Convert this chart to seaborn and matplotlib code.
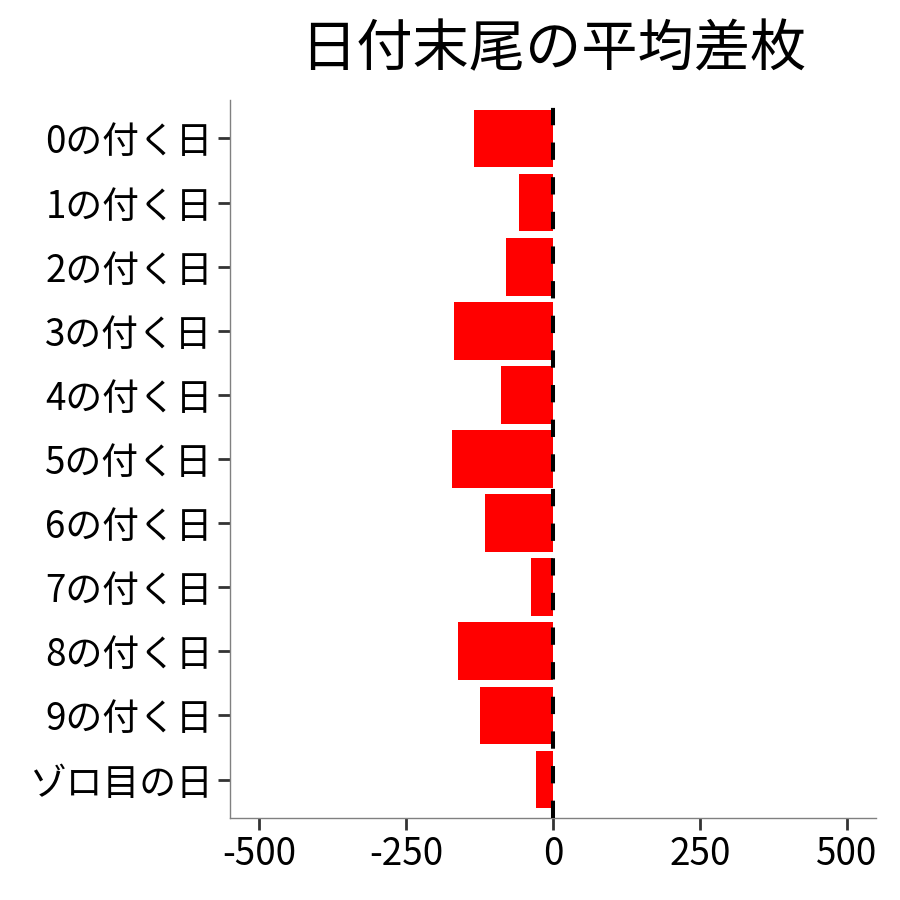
import matplotlib
matplotlib.use("Agg")
import matplotlib.pyplot as plt
import seaborn as sns
import pandas as pd

categories = ["0の付く日", "1の付く日", "2の付く日", "3の付く日", "4の付く日",
              "5の付く日", "6の付く日", "7の付く日", "8の付く日", "9の付く日", "ゾロ目の日"]
avg_diff = [-134, -58, -80, -168, -88, -172, -116, -37, -162, -124, -29]
x_ticks = [-500, -250, 0, 250, 500]
title = "日付末尾の平均差枚"

sns.set_theme(style="white")
plt.rcParams['font.family'] = ['Noto Sans CJK JP', 'DejaVu Sans']
plt.rcParams['axes.unicode_minus'] = False

df = pd.DataFrame({"cat": categories, "val": avg_diff})

fig = plt.figure(figsize=(9, 9), dpi=100)
ax = fig.add_axes([230/900, 1 - 818/900, (876 - 230)/900, (818 - 100)/900])

sns.barplot(data=df, x="val", y="cat", order=categories, color="#FF0000",
            saturation=1, width=0.9, orient="h", ax=ax, zorder=2)
for p in ax.patches:
    p.set_edgecolor("none")
    p.set_linewidth(0)

ax.axvline(0, color="black", linewidth=2.9, linestyle=(0, (4.3, 4.3)), zorder=3)

ax.set_xlim(-550, 550)
ax.set_ylim(len(categories) - 1 + 0.6, -0.6)
ax.set_xticks(x_ticks)
ax.set_xticklabels([str(v) for v in x_ticks])
ax.set_xlabel("")
ax.set_ylabel("")

for s in ["top", "right"]:
    ax.spines[s].set_visible(False)
for s in ["left", "bottom"]:
    ax.spines[s].set_color("#808080")
    ax.spines[s].set_linewidth(1.0)

ax.tick_params(axis="both", which="major", length=8.5, width=2, color="#333333",
               labelsize=26.5, labelcolor="black", pad=4)
ax.tick_params(left=True, bottom=True)

ax.set_title(title, fontsize=40.5, color="black", pad=24)

fig.savefig("out.png", dpi=100, facecolor="white")
